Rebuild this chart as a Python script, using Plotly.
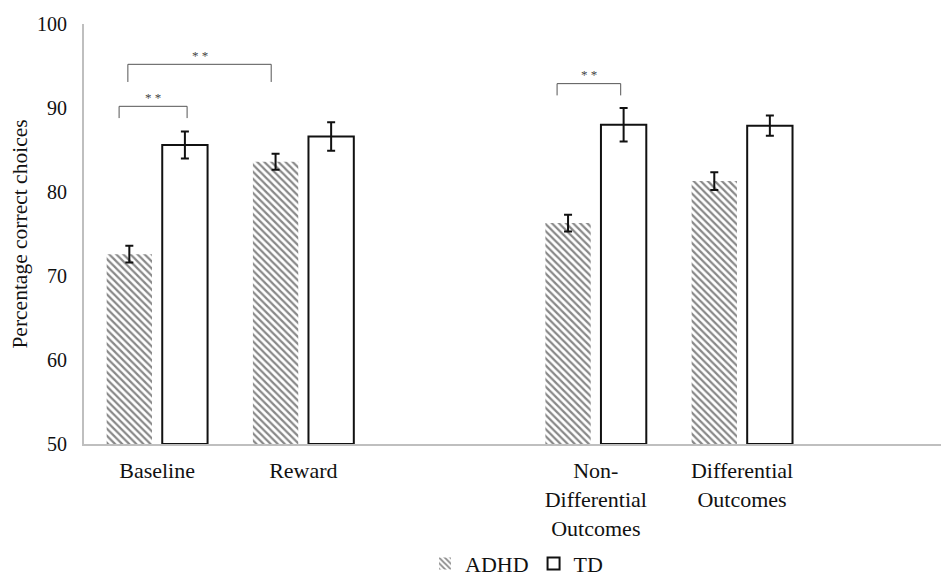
import plotly.graph_objects as go

# ---- data ----
categories = ["Baseline", "Reward", "", "Non-<br>Differential<br>Outcomes", "Differential<br>Outcomes", ""]
positions = [0, 1, 3, 4]
adhd_values = [72.6, 83.6, 76.3, 81.3]
adhd_err = [1.0, 0.95, 1.0, 1.05]
td_values = [85.6, 86.6, 88.0, 87.9]
td_err = [1.6, 1.7, 2.0, 1.2]

# significance brackets: (x_left, x_right, y_top, y_end, label)
bracket_x0 = [-0.26, -0.20, 2.735]
bracket_x1 = [0.205, 0.78, 3.17]
bracket_top = [90.2, 95.2, 92.9]
bracket_end = [88.8, 93.1, 91.5]
bracket_label = ["* *", "* *", "* *"]

FONT = "Liberation Serif"
W = 0.31
OFF = 0.19

fig = go.Figure()
fig.add_trace(go.Bar(
    name="ADHD", x=positions, y=[v - 50 for v in adhd_values], base=50,
    width=W, offset=-OFF - W / 2,
    marker=dict(color="white", line=dict(width=0),
                pattern=dict(shape="\\", size=5, solidity=0.45,
                             fgcolor="#111111", bgcolor="white")),
    error_y=dict(type="data", array=adhd_err, color="#111111", thickness=2, width=4),
))
fig.add_trace(go.Bar(
    name="TD", x=positions, y=[v - 50 for v in td_values], base=50,
    width=W, offset=OFF - W / 2,
    marker=dict(color="white", line=dict(width=2, color="#111111")),
    error_y=dict(type="data", array=td_err, color="#111111", thickness=2, width=4),
))

shapes = []
annotations = []
for x0, x1, yt, ye, lab in zip(bracket_x0, bracket_x1, bracket_top, bracket_end, bracket_label):
    shapes.append(dict(type="path", xref="x", yref="y",
                       path=f"M {x0},{ye} L {x0},{yt} L {x1},{yt} L {x1},{ye}",
                       line=dict(color="#555555", width=1)))
    annotations.append(dict(x=(x0 + x1) / 2, y=yt, xref="x", yref="y", text=lab,
                            showarrow=False, yshift=9,
                            font=dict(family=FONT, size=13, color="#444444")))

# page body has an 8px default margin, so the figure is drawn 8px in from the top-left
fig.update_layout(
    width=941, height=574,
    margin=dict(l=76, r=0, t=16, b=138, autoexpand=False),
    plot_bgcolor="white", paper_bgcolor="white",
    font=dict(family=FONT, color="#111111"),
    barmode="overlay",
    showlegend=True,
    legend=dict(orientation="h", x=0.5, xanchor="center", xref="paper",
                y=-0.285, yanchor="middle", font=dict(size=22, family=FONT),
                itemwidth=30, traceorder="normal"),
    shapes=shapes, annotations=annotations,
)
fig.update_xaxes(
    range=[-0.5, 5.415], tickmode="array", tickvals=list(range(len(categories))),
    ticktext=categories, showgrid=False, zeroline=False, automargin=False,
    showline=True, linecolor="#bfbfbf", linewidth=2, ticks="", ticklabelstandoff=6,
    tickfont=dict(size=22, family=FONT, color="#111111"),
)
fig.update_yaxes(
    range=[50, 100], tickmode="linear", tick0=50, dtick=10, automargin=False,
    showgrid=False, zeroline=False, showline=True, linecolor="#bfbfbf", linewidth=2,
    ticks="", ticklabelstandoff=11,
    tickfont=dict(size=20, family=FONT, color="#111111"),
    title=dict(text="Percentage correct choices", font=dict(size=21.5, family=FONT, color="#111111"), standoff=10),
)

fig.write_html("out.html")
